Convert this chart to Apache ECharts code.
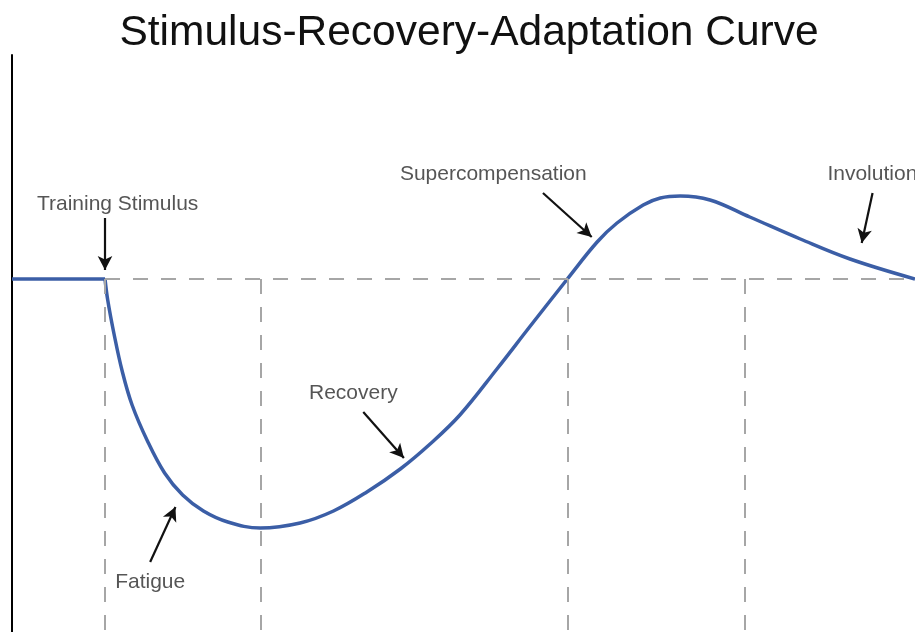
<!DOCTYPE html>
<html>
<head>
<meta charset="utf-8">
<script src="https://cdn.jsdelivr.net/npm/echarts@6/dist/echarts.min.js"></script>
<style>html,body{margin:0;padding:0;background:#fff}#c{width:915px;height:632px}</style>
</head>
<body>
<div id="c"></div>
<script>
// Baseline before the stimulus
const flatX = [0, 1.03];
const flatY = [0, 0];
// Response curve after the stimulus (time units, performance relative to baseline)
const curveX = [1.03, 1.06, 1.13, 1.22, 1.33, 1.50, 1.69, 1.89, 2.12, 2.39, 2.75, 3.19, 3.56, 3.93, 4.30, 4.63, 4.96, 5.37, 5.74, 6.15, 6.48, 6.70, 6.99, 7.18, 7.40, 7.73, 8.17, 8.73, 9.28, 10.0];
const curveY = [0, -0.21, -0.55, -0.92, -1.26, -1.62, -1.94, -2.16, -2.32, -2.43, -2.49, -2.44, -2.32, -2.13, -1.90, -1.65, -1.36, -0.90, -0.47, 0, 0.37, 0.56, 0.74, 0.81, 0.83, 0.79, 0.62, 0.40, 0.20, 0];
// Phase dividers (x positions) and baseline
const dividerX = [1.03, 2.75, 6.15, 8.12];
const baselineStart = 1.03;
const baselineEnd = 10.0;
// Annotations
const labelNames = ['Training Stimulus', 'Fatigue', 'Recovery', 'Supercompensation', 'Involution'];
const labelX = [1.17, 1.53, 3.78, 5.33, 9.03];
const labelY = [0.75, -3.03, -1.14, 1.05, 1.05];
const arrowTailX = [1.03, 1.53, 3.89, 5.88, 9.53];
const arrowTailY = [0.61, -2.83, -1.33, 0.86, 0.86];
const arrowHeadX = [1.03, 1.81, 4.34, 6.42, 9.41];
const arrowHeadY = [0.09, -2.28, -1.79, 0.42, 0.36];
const yMin = -3.53, yMax = 2.24, xMin = 0, xMax = 10;

const chart = echarts.init(document.getElementById('c'), null, {renderer: 'canvas'});
const FONT = '"Liberation Sans", Arial, Helvetica, sans-serif';

const dashStyle = {color: '#a6a6a6', width: 2, type: [15, 13]};
const guideLines = [[{coord: [baselineStart, 0]}, {coord: [baselineEnd, 0]}]]
  .concat(dividerX.map(x => [{coord: [x, 0]}, {coord: [x, yMin]}]));

const arrows = labelNames.map((n, i) => [
  {coord: [arrowTailX[i], arrowTailY[i]]},
  {coord: [arrowHeadX[i], arrowHeadY[i]]}
]);

const curveStyle = {color: '#3b5ea6', width: 3.5};

chart.setOption({
  animation: false,
  title: {
    text: 'Stimulus-Recovery-Adaptation Curve',
    left: 464, textAlign: 'center', top: 7,
    textStyle: {fontFamily: FONT, fontSize: 42.5, fontWeight: 'normal', color: '#111'}
  },
  grid: {left: 12, right: 0, top: 55, bottom: 0, containLabel: false},
  xAxis: {type: 'value', min: xMin, max: xMax, show: false},
  yAxis: {
    type: 'value', min: yMin, max: yMax,
    axisLine: {show: true, lineStyle: {color: '#000', width: 2}},
    axisTick: {show: false}, axisLabel: {show: false}, splitLine: {show: false}
  },
  series: [
    {
      type: 'line', name: 'guides', data: [], z: 1, silent: true,
      markLine: {silent: true, symbol: ['none', 'none'], label: {show: false},
        lineStyle: dashStyle, data: guideLines, animation: false}
    },
    {
      type: 'line', name: 'baseline', z: 3,
      data: flatX.map((x, i) => [x, flatY[i]]),
      showSymbol: false, symbol: 'none', lineStyle: curveStyle
    },
    {
      type: 'line', name: 'curve', z: 3,
      data: curveX.map((x, i) => [x, curveY[i]]),
      smooth: 0.38, showSymbol: false, symbol: 'none',
      lineStyle: curveStyle, clip: false
    },
    {
      type: 'scatter', name: 'labels', z: 4, symbolSize: 0, silent: true,
      data: labelNames.map((n, i) => ({value: [labelX[i], labelY[i]], name: n,
        label: {align: i === 4 ? 'left' : 'center'}})),
      label: {show: true, position: 'inside', formatter: p => p.name,
        fontFamily: FONT, fontSize: 21, color: '#2a2a2a', verticalAlign: 'middle'}
    },
    {
      type: 'line', name: 'arrows', data: [], z: 5, silent: true,
      markLine: {silent: true, symbol: ['none', 'arrow'], symbolSize: [11, 14],
        label: {show: false}, lineStyle: {color: '#111', width: 2.2, type: 'solid'},
        data: arrows, animation: false}
    }
  ]
});
</script>
</body>
</html>
